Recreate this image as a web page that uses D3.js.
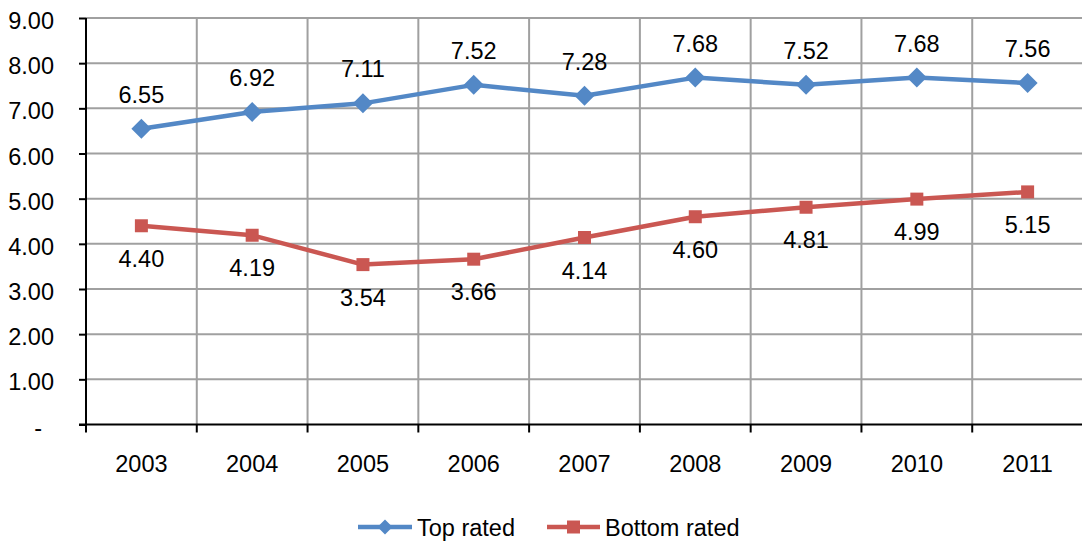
<!DOCTYPE html>
<html>
<head>
<meta charset="utf-8">
<script src="https://cdn.jsdelivr.net/npm/d3@7"></script>
<style>
  html, body { margin: 0; padding: 0; background: #fff; }
  svg { display: block; font-family: "Liberation Sans", Arial, sans-serif; }
</style>
</head>
<body>
<svg id="chart" width="1082" height="541"></svg>
<script>
// Chart data
const years = ["2003", "2004", "2005", "2006", "2007", "2008", "2009", "2010", "2011"];
const topRated = [6.55, 6.92, 7.11, 7.52, 7.28, 7.68, 7.52, 7.68, 7.56];
const bottomRated = [4.40, 4.19, 3.54, 3.66, 4.14, 4.60, 4.81, 4.99, 5.15];
const yTicks = [0, 1, 2, 3, 4, 5, 6, 7, 8, 9];
const seriesNames = ["Top rated", "Bottom rated"];

const blue = "#5388C6";
const red = "#CA5752";
const gridColor = "#A0A0A0";
const fontSize = 23.5;

const svg = d3.select("#chart");
const plot = { left: 86, right: 1083, top: 18, bottom: 424.5 };

const x = d3.scaleBand().domain(years).range([plot.left, plot.right]).padding(0);
const y = d3.scaleLinear().domain([0, 9]).range([plot.bottom, plot.top]);
const cx = d => x(d) + x.bandwidth() / 2;

// Horizontal gridlines
svg.append("g")
  .selectAll("line")
  .data(yTicks.filter(v => v > 0))
  .join("line")
  .attr("x1", plot.left).attr("x2", plot.right)
  .attr("y1", d => y(d)).attr("y2", d => y(d))
  .attr("stroke", gridColor).attr("stroke-width", 2);

// Vertical gridlines at category boundaries
svg.append("g")
  .selectAll("line")
  .data(d3.range(1, years.length + 1))
  .join("line")
  .attr("x1", i => plot.left + i * x.bandwidth())
  .attr("x2", i => plot.left + i * x.bandwidth())
  .attr("y1", plot.top).attr("y2", plot.bottom)
  .attr("stroke", gridColor).attr("stroke-width", 2);

// Y axis
const yAxis = svg.append("g")
  .attr("transform", `translate(${plot.left},0)`)
  .call(d3.axisLeft(y).tickValues(yTicks).tickSize(7).tickPadding(25)
    .tickFormat(d => d === 0 ? "-" : d3.format(".2f")(d)));
yAxis.select(".domain").attr("stroke", "#000").attr("stroke-width", 2)
  .attr("d", `M0,${plot.top}V${plot.bottom}`);
yAxis.selectAll(".tick line").attr("stroke", "#000").attr("stroke-width", 2);
yAxis.selectAll(".tick text")
  .attr("font-size", fontSize).attr("fill", "#000")
  .attr("font-family", "Liberation Sans, Arial, sans-serif")
  .attr("dy", 10.5)
  .attr("dx", d => d === 0 ? -12 : 0);

// X axis
const xAxis = svg.append("g")
  .attr("transform", `translate(0,${plot.bottom})`)
  .call(d3.axisBottom(x).tickSize(0).tickPadding(30.5));
xAxis.select(".domain").remove();
xAxis.selectAll(".tick text")
  .attr("font-size", fontSize).attr("fill", "#000")
  .attr("font-family", "Liberation Sans, Arial, sans-serif");
svg.append("line")
  .attr("x1", plot.left - 7).attr("x2", plot.right)
  .attr("y1", plot.bottom).attr("y2", plot.bottom)
  .attr("stroke", "#000").attr("stroke-width", 2);
// x-axis tick marks at category boundaries
svg.append("g")
  .selectAll("line")
  .data(d3.range(years.length + 1))
  .join("line")
  .attr("x1", i => plot.left + i * x.bandwidth())
  .attr("x2", i => plot.left + i * x.bandwidth())
  .attr("y1", plot.bottom).attr("y2", plot.bottom + 8)
  .attr("stroke", "#000").attr("stroke-width", 2);

const line = d3.line().x(d => cx(d.year)).y(d => y(d.value));
const toPoints = vals => years.map((yr, i) => ({ year: yr, value: vals[i] }));

const diamond = s => `M0,${-s}L${s},0L0,${s}L${-s},0Z`;
const square = s => `M${-s},${-s}H${s}V${s}H${-s}Z`;

function drawSeries(vals, color, shape, labelDy) {
  const pts = toPoints(vals);
  const g = svg.append("g");
  g.append("path").datum(pts)
    .attr("d", line)
    .attr("fill", "none").attr("stroke", color)
    .attr("stroke-width", 4.5).attr("stroke-linejoin", "round");
  g.selectAll("path.mk").data(pts).join("path")
    .attr("class", "mk")
    .attr("d", shape)
    .attr("transform", d => `translate(${cx(d.year)},${y(d.value)})`)
    .attr("fill", color);
  g.selectAll("text").data(pts).join("text")
    .attr("x", d => cx(d.year))
    .attr("y", d => y(d.value) + labelDy)
    .attr("text-anchor", "middle")
    .attr("font-size", fontSize).attr("fill", "#000")
    .text(d => d3.format(".2f")(d.value));
}

drawSeries(topRated, blue, diamond(10), -26);
drawSeries(bottomRated, red, square(6.5), 41);

// Legend
const legend = svg.append("g");
const legendItems = [
  { name: seriesNames[0], color: blue, shape: diamond(7.5), x1: 358, x2: 412 },
  { name: seriesNames[1], color: red, shape: square(6.5), x1: 547, x2: 600 }
];
const ly = 527;
legendItems.forEach(it => {
  legend.append("line")
    .attr("x1", it.x1).attr("x2", it.x2).attr("y1", ly).attr("y2", ly)
    .attr("stroke", it.color).attr("stroke-width", 4.5);
  legend.append("path")
    .attr("d", it.shape)
    .attr("transform", `translate(${(it.x1 + it.x2) / 2},${ly})`)
    .attr("fill", it.color);
  legend.append("text")
    .attr("x", it.x2 + 5).attr("y", ly + 9)
    .attr("font-size", fontSize).attr("fill", "#000")
    .text(it.name);
});
</script>
</body>
</html>
